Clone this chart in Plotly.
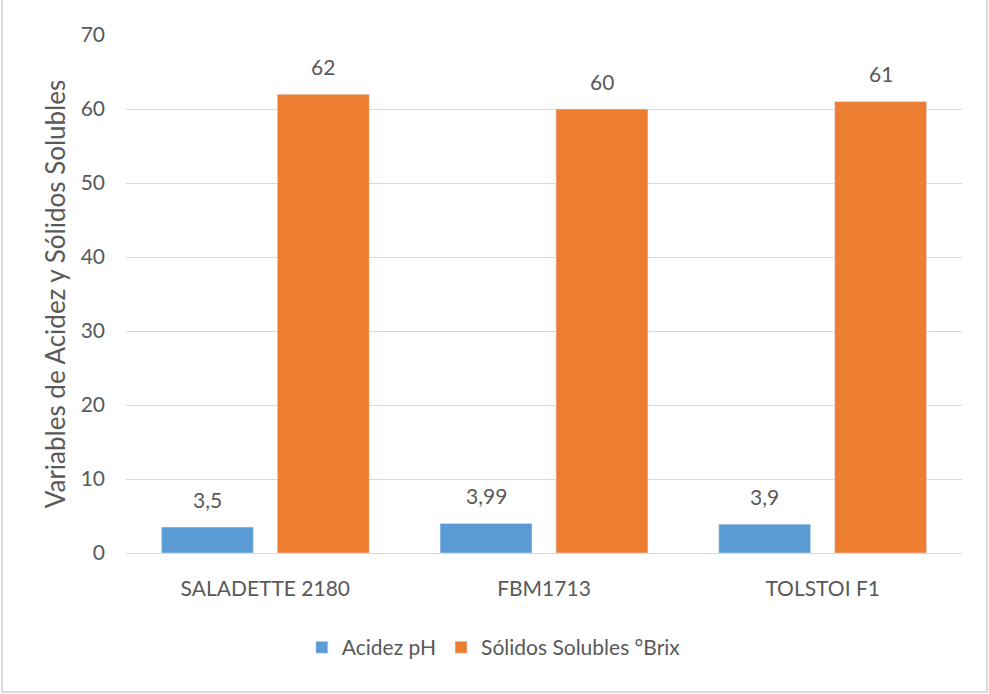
import plotly.graph_objects as go

categories = ["SALADETTE 2180", "FBM1713", "TOLSTOI F1"]
acidez = [3.5, 3.99, 3.9]
solidos = [62, 60, 61]
acidez_labels = ["3,5", "3,99", "3,9"]
solidos_labels = ["62", "60", "61"]
series_names = ["Acidez pH", "Sólidos Solubles °Brix"]
y_ticks = [0, 10, 20, 30, 40, 50, 60, 70]

FONT = "Lato, 'Open Sans', sans-serif"
TXT = "#595959"
COLORS = ["#5B9BD5", "#ED7D31"]

fig = go.Figure()
fig.add_trace(go.Bar(x=categories, y=acidez, name=series_names[0], marker_color=COLORS[0]))
fig.add_trace(go.Bar(x=categories, y=solidos, name=series_names[1], marker_color=COLORS[1]))

W, H = 989, 694
L, R, T, B = 126, 27, 35, 141
pw, ph = W - L - R, H - T - B

BARGAP, GROUPGAP = 0.168, 0.207
cat_px = pw / len(categories)
slot_px = cat_px * (1 - BARGAP) / 2

annotations = []
for vals, labels, sign in [(acidez, acidez_labels, -1), (solidos, solidos_labels, 1)]:
    for c, v, lab in zip(categories, vals, labels):
        annotations.append(dict(x=c, y=v, xref="x", yref="y", text=lab, showarrow=False,
                                xshift=sign * slot_px / 2, yshift=28, yanchor="middle",
                                font=dict(size=21, color=TXT, family=FONT)))

fig.update_layout(
    width=W, height=H,
    margin=dict(l=L, r=R, t=T, b=B),
    paper_bgcolor="white", plot_bgcolor="white",
    barmode="group", bargap=BARGAP, bargroupgap=GROUPGAP,
    font=dict(family=FONT, color=TXT),
    legend=dict(orientation="h", x=0.44, xanchor="center", y=-0.143, yanchor="top",
                font=dict(size=21, color=TXT, family=FONT), traceorder="normal"),
    xaxis=dict(showline=False, ticks="", tickfont=dict(size=21, color=TXT, family=FONT),
               ticklabelstandoff=21),
    yaxis=dict(range=[0, 70], tickvals=y_ticks, showgrid=True, gridcolor="#D9D9D9", gridwidth=1,
               zeroline=True, zerolinecolor="#D9D9D9", zerolinewidth=1,
               tickfont=dict(size=21, color=TXT, family=FONT), ticklabelstandoff=20,
               title=dict(text="Variables de Acidez y Sólidos Solubles", standoff=7,
                          font=dict(size=26, color=TXT, family=FONT))),
    annotations=annotations,
    shapes=[dict(type="rect", xref="paper", yref="paper",
                 x0=(2 - L) / pw, x1=(W - 2 - L) / pw,
                 y0=-(H - 2 - T - ph) / ph, y1=(H - T - 2) / ph,
                 line=dict(color="#D9D9D9", width=2), fillcolor="rgba(0,0,0,0)", layer="below")],
)

fig.write_html("out.html")
